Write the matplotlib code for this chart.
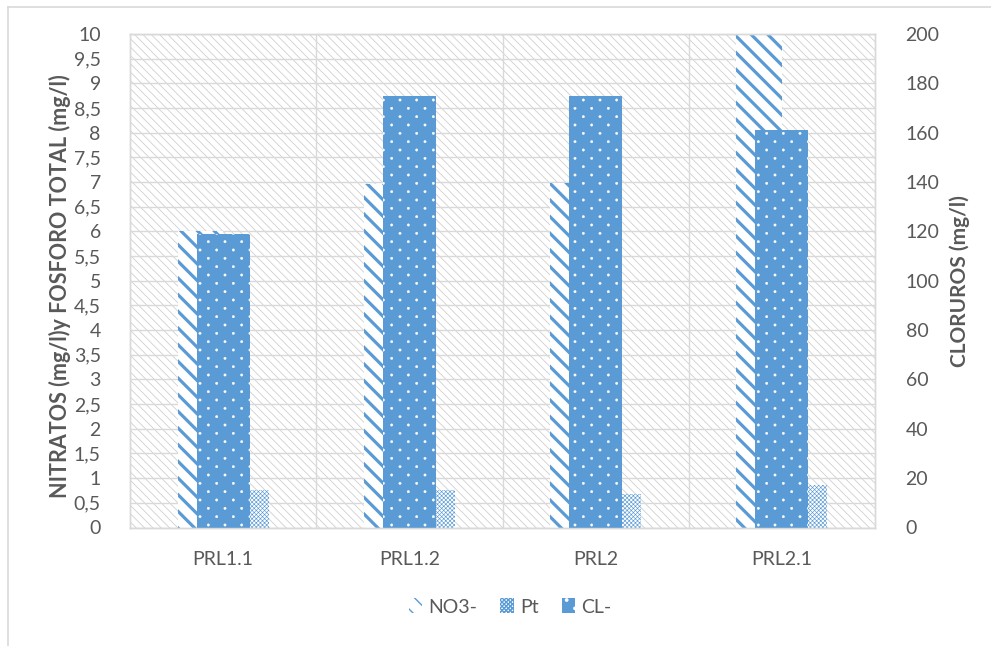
import matplotlib
matplotlib.use("Agg")
import matplotlib.pyplot as plt
import matplotlib.hatch as mhatch
from matplotlib.path import Path
import numpy as np
from matplotlib.patches import Patch

categories = ["PRL1.1", "PRL1.2", "PRL2", "PRL2.1"]
no3 = [6.0, 6.96, 6.98, 10.0]
pt = [0.75, 0.75, 0.67, 0.87]
cl = [119, 175, 175, 161]

left_ticks = [i * 0.5 for i in range(21)]
left_labels = [("%g" % v).replace(".", ",") for v in left_ticks]
right_ticks = list(range(0, 201, 20))

BLUE = "#5b9bd5"
TXT = "#595959"
GRID = "#d9d9d9"


# Excel-like dotted fill: staggered small dots, rows twice as dense as columns
class StaggeredDots(mhatch.HatchPatternBase):
    size = 0.07

    def __init__(self, hatch, density):
        self.ncol = hatch.count('.') * density
        circ = Path.unit_circle()
        self.cv = circ.vertices
        self.cc = circ.codes
        if self.ncol == 0:
            self.num_vertices = 0
            return
        n = self.ncol
        self.nrows = 2 * n + 1
        count = 0
        for r in range(self.nrows):
            count += (n + 1) if r % 2 == 0 else n
        self.num_shapes = count
        self.num_vertices = count * len(self.cv)

    def set_vertices_and_codes(self, vertices, codes):
        n = self.ncol
        off = 1.0 / n
        sv = self.cv * off * self.size
        vparts, cparts = [], []
        for r in range(self.nrows):
            if r % 2 == 0:
                cols = np.linspace(0, 1, n + 1)
            else:
                cols = np.linspace(off / 2, 1 - off / 2, n)
            rp = r * off / 2
            for c in cols:
                vparts.append(sv + [c, rp])
                cparts.append(self.cc)
        vertices[:] = np.concatenate(vparts)
        codes[:] = np.concatenate(cparts)


mhatch._hatch_types = [StaggeredDots if t is mhatch.SmallFilledCircles else t
                       for t in mhatch._hatch_types]

plt.rcParams["font.family"] = ["Lato", "DejaVu Sans"]

fig = plt.figure(figsize=(9.91, 6.46), dpi=100)
ax = fig.add_axes([130 / 991, 1 - 527.5 / 646, (875 - 130) / 991, (527.5 - 34) / 646])
ax2 = ax.twinx()


def set_hlw(p, lw):
    if hasattr(p, "set_hatch_linewidth"):
        p.set_hatch_linewidth(lw)


# background hatch of plot area
ax.patch.set_facecolor("white")
ax.patch.set_edgecolor("#cfcfcf")
ax.patch.set_linewidth(0)
ax.patch.set_hatch("\\\\\\\\")
set_hlw(ax.patch, 0.6)

x = np.arange(len(categories))
w = 0.244
b1 = ax.bar(x - w / 2, no3, width=w, facecolor="white", edgecolor=BLUE,
            linewidth=0, hatch="\\\\", zorder=2)
for p in b1:
    set_hlw(p, 2.3)
b2 = ax.bar(x + w / 2, pt, width=w, facecolor="white", edgecolor=BLUE,
            linewidth=0, hatch="xxxxxxxx", zorder=2)
for p in b2:
    set_hlw(p, 0.45)
b3 = ax2.bar(x, cl, width=0.285, facecolor=BLUE, edgecolor="white",
             linewidth=0, hatch=".", zorder=2)
for p in b3:
    set_hlw(p, 0.3)

ax.set_xlim(-0.5, len(categories) - 0.5)
ax.set_ylim(0, 10)
ax2.set_ylim(0, 200)
ax.set_yticks(left_ticks)
ax.set_yticklabels(left_labels)
ax2.set_yticks(right_ticks)
ax.set_xticks(x)
ax.set_xticklabels(categories)

ax.set_axisbelow(True)
ax.grid(axis="y", color=GRID, linewidth=1.0)
ax.set_xticks(np.arange(0.5, len(categories) - 0.5, 1), minor=True)
ax.grid(axis="x", which="minor", color=GRID, linewidth=1.0)
ax.grid(axis="x", which="major", visible=False)

for a in (ax, ax2):
    for s in a.spines.values():
        s.set_color(GRID)
        s.set_linewidth(1.0)
    a.tick_params(length=0, which="both", labelsize=14, colors=TXT)
ax.tick_params(axis="y", pad=21)
ax.tick_params(axis="x", pad=17)
ax2.tick_params(axis="y", pad=22)

ax.set_ylabel("NITRATOS (mg/l)y FOSFORO TOTAL (mg/l)", fontsize=15.5,
              fontweight="bold", color=TXT)
ax.yaxis.set_label_coords((71 - 130) / 745, 0.49)
ax2.set_ylabel("CLORUROS (mg/l)", fontsize=15, fontweight="bold",
               color=TXT, labelpad=7)

handles = [
    Patch(facecolor="white", edgecolor=BLUE, linewidth=0, hatch="\\\\", label="NO3-"),
    Patch(facecolor="white", edgecolor=BLUE, linewidth=0, hatch="xxxxxxxx", label="Pt"),
    Patch(facecolor=BLUE, edgecolor="white", linewidth=0, hatch=".", label="CL-"),
]
set_hlw(handles[0], 2.3)
set_hlw(handles[1], 0.45)
set_hlw(handles[2], 0.3)
leg = fig.legend(handles=handles, loc="center", bbox_to_anchor=(510 / 991, 1 - 607 / 646),
                 ncol=3, frameon=False, fontsize=14, handlelength=0.7, handleheight=0.8,
                 handletextpad=0.3, columnspacing=1.2)
for t in leg.get_texts():
    t.set_color(TXT)

# outer chart border (left and top visible)
fig.add_artist(plt.Line2D([8 / 991, 8 / 991], [0, 1 - 7 / 646], color=GRID, lw=1.2,
                          transform=fig.transFigure))
fig.add_artist(plt.Line2D([8 / 991, 1], [1 - 7 / 646, 1 - 7 / 646], color=GRID, lw=1.2,
                          transform=fig.transFigure))

fig.savefig("out.png", dpi=100)
